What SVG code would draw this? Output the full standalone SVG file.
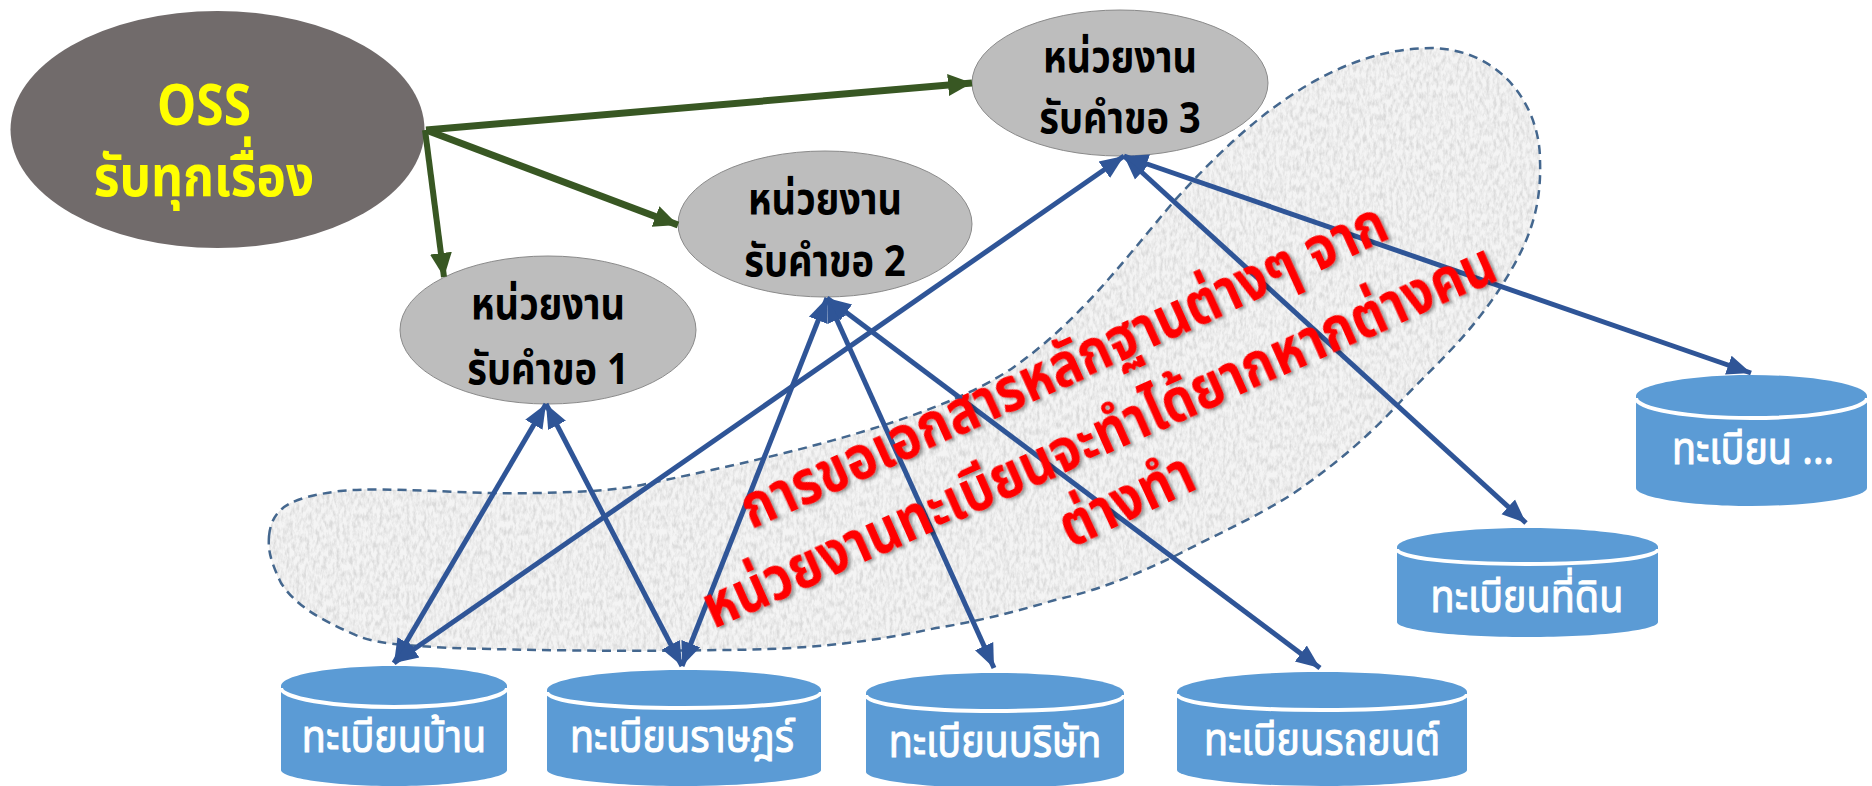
<svg xmlns="http://www.w3.org/2000/svg" width="1872" height="786" viewBox="0 0 1872 786">
<style>
text{font-family:"Noto Sans","Noto Sans Thai","DejaVu Sans","Liberation Sans",sans-serif;text-anchor:middle;font-weight:700}
.o{fill:#bdbdbd;stroke:#8a8a8a;stroke-width:1}
.ot{font-size:38px;fill:#000}
.cb{fill:#5b9bd5}
.cl{fill:none;stroke:#fff;stroke-width:4}
.ct{font-size:38px;fill:#fff;font-weight:400;stroke:#fff;stroke-width:.9}
.g{stroke:#385723;fill:none}
.b{stroke:#2f5597;stroke-width:5;fill:none}
.r{font-size:50px;fill:#f00;filter:url(#sh)}
</style>
<defs>
<marker id="ag" markerUnits="userSpaceOnUse" viewBox="0 0 24 24" refX="24" refY="12" markerWidth="24" markerHeight="24" orient="auto"><path d="M0 1L24 12L0 23z" fill="#385723"/></marker>
<marker id="ab" markerUnits="userSpaceOnUse" viewBox="0 0 24 24" refX="24" refY="12" markerWidth="24" markerHeight="24" orient="auto-start-reverse"><path d="M0 2L24 12L0 22z" fill="#2f5597"/></marker>
<filter id="tx" x="0" y="0" width="1" height="1"><feTurbulence type="fractalNoise" baseFrequency=".3 .14" numOctaves="3" seed="4"/><feColorMatrix values="0 0 0 0 .7 0 0 0 0 .7 0 0 0 0 .7 2.4 0 0 0 -.9"/><feComposite in2="SourceGraphic" operator="in" result="n"/><feMerge><feMergeNode in="SourceGraphic"/><feMergeNode in="n"/></feMerge></filter>
<filter id="sh" x="-5%" y="-20%" width="110%" height="140%"><feDropShadow dx="2" dy="2" stdDeviation="1.5" flood-color="#000" flood-opacity=".4"/></filter>
<path id="bl" d="M269 536C272 505 295 497 340 491C385 486 470 495 537 493C590 492 620 490 651 483C750 462 930 425 1014 367C1080 320 1120 265 1175 200C1230 140 1320 48 1432 48C1505 50 1540 110 1540 160C1542 215 1525 250 1497 293C1465 340 1435 365 1402 400C1370 435 1335 465 1294 493C1255 518 1215 535 1175 556C1135 575 1100 590 1055 600C1015 612 975 622 936 628C860 645 790 650 716 650C620 652 530 650 448 648C410 645 380 645 358 636C320 620 295 605 281 583C270 560 268 550 269 536Z"/>
</defs>
<g id="blob">
<use href="#bl" fill="#f4f4f4" filter="url(#tx)"/>
<use href="#bl" fill="none" stroke="#44678e" stroke-width="2.500" stroke-dasharray="9 6"/>
</g>
<g id="oss"><ellipse cx="217.500" cy="129.500" rx="207" ry="118.500" fill="#716b6b"/>
<text transform="translate(204 125) scale(1.08 1.25)" font-size="46" fill="#ff0">OSS</text><text transform="translate(204 196) scale(1.08 1.25)" font-size="46" fill="#ff0">รับทุกเรื่อง</text></g>
<g id="n1"><ellipse class="o" cx="548" cy="330" rx="148" ry="74"/><text class="ot" transform="translate(548 319) scale(1 1.15)">หน่วยงาน</text><text class="ot" transform="translate(548 384) scale(1 1.15)">รับคำขอ 1</text></g>
<g id="n2"><ellipse class="o" cx="825" cy="224" rx="147" ry="73"/><text class="ot" transform="translate(825 214) scale(1 1.15)">หน่วยงาน</text><text class="ot" transform="translate(825 276) scale(1 1.15)">รับคำขอ 2</text></g>
<g id="n3"><ellipse class="o" cx="1120" cy="83" rx="148" ry="73"/><text class="ot" transform="translate(1120 72) scale(1 1.15)">หน่วยงาน</text><text class="ot" transform="translate(1120 133) scale(1 1.15)">รับคำขอ 3</text></g>
<g id="connectors">
<path class="g" stroke-width="7" marker-end="url(#ag)" d="M426 130L972 83"/>
<path class="g" stroke-width="7" marker-end="url(#ag)" d="M426 130L678 225"/>
<path class="g" stroke-width="6" marker-end="url(#ag)" d="M425 130L444 277"/>
<path class="b" marker-start="url(#ab)" marker-end="url(#ab)" d="M546 404L394 663"/>
<path class="b" marker-start="url(#ab)" marker-end="url(#ab)" d="M546 404L682 666"/>
<path class="b" marker-start="url(#ab)" marker-end="url(#ab)" d="M827 298L682 666"/>
<path class="b" marker-start="url(#ab)" marker-end="url(#ab)" d="M827 298L994 668"/>
<path class="b" marker-start="url(#ab)" marker-end="url(#ab)" d="M827 298L1320 668"/>
<path class="b" marker-start="url(#ab)" marker-end="url(#ab)" d="M1124 156L394 663"/>
<path class="b" marker-start="url(#ab)" marker-end="url(#ab)" d="M1124 156L1526 523"/>
<path class="b" stroke-width="6" marker-start="url(#ab)" marker-end="url(#ab)" d="M1124 156L1751 373"/>
</g>
<g id="db1"><path class="cb" d="M281 686C281 675 332 666 394 666S507 675 507 686V770C507 778 456 786 394 786S281 778 281 770Z"/><path class="cl" d="M281 688C281 698 332 707 394 707S507 698 507 688"/><text class="ct" transform="translate(394 752) scale(1.04 1.15)">ทะเบียนบ้าน</text></g>
<g id="db2"><path class="cb" d="M547 690C547 679 608 670 684 670S821 679 821 690V770C821 778 760 786 684 786S547 778 547 770Z"/><path class="cl" d="M547 692C547 702 608 708 684 708S821 702 821 692"/><text class="ct" transform="translate(682 752) scale(1.04 1.15)">ทะเบียนราษฎร์</text></g>
<g id="db3"><path class="cb" d="M866 693C866 682 924 673 995 673S1124 682 1124 693V772C1124 780 1066 788 995 788S866 780 866 772Z"/><path class="cl" d="M866 695C866 705 924 711 995 711S1124 705 1124 695"/><text class="ct" transform="translate(995 757) scale(1.04 1.15)">ทะเบียนบริษัท</text></g>
<g id="db4"><path class="cb" d="M1177 692C1177 681 1242 672 1322 672S1467 681 1467 692V770C1467 778 1402 786 1322 786S1177 778 1177 770Z"/><path class="cl" d="M1177 694C1177 704 1242 710 1322 710S1467 704 1467 694"/><text class="ct" transform="translate(1322 755) scale(1.04 1.15)">ทะเบียนรถยนต์</text></g>
<g id="db5"><path class="cb" d="M1397 547C1397 537 1455 528 1527 528S1658 537 1658 547V622C1658 630 1600 637 1527 637S1397 630 1397 622Z"/><path class="cl" d="M1397 549C1397 558 1455 564 1527 564S1658 558 1658 549"/><text class="ct" transform="translate(1527 612) scale(1.04 1.15)">ทะเบียนที่ดิน</text></g>
<g id="db6"><path class="cb" d="M1636 396C1636 385 1688 375 1751 375S1867 385 1867 396V488C1867 497 1815 506 1751 506S1636 497 1636 488Z"/><path class="cl" d="M1636 398C1636 409 1688 418 1751 418S1867 409 1867 398"/><text class="ct" transform="translate(1753 464) scale(1.04 1.15)">ทะเบียน ...</text></g>
<g id="label">
<text class="r" transform="translate(1072 384) rotate(-24.500) scale(1.04 1.2)">การขอเอกสารหลักฐานต่างๆ จาก</text>
<text class="r" transform="translate(1107 454) rotate(-24) scale(1.04 1.2)">หน่วยงานทะเบียนจะทำได้ยากหากต่างคน</text>
<text class="r" transform="translate(1135 518) rotate(-25) scale(1.04 1.2)">ต่างทำ</text>
</g>
</svg>
